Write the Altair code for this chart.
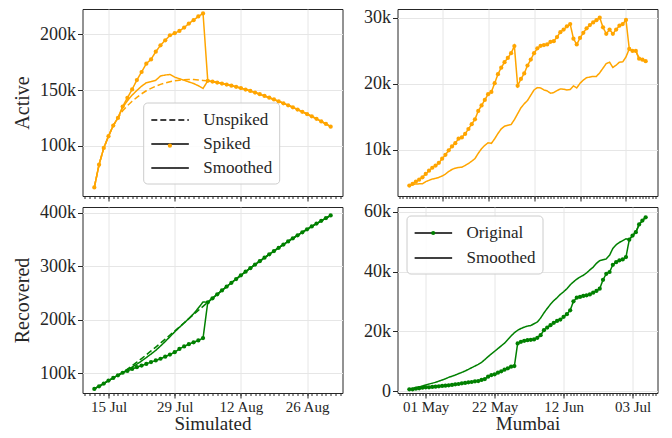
import altair as alt
import pandas as pd

ORANGE = "#ffa500"
GREEN = "#008000"
FONT = "Liberation Serif"
INK = "#262626"

# ---------------- Simulated data (12 Jul - 31 Aug 2020), values in thousands
sim_dates = pd.date_range("2020-07-12", "2020-08-31", freq="D").strftime("%Y-%m-%d").tolist()

sim_active_unspiked = [
    62.9, 83.2, 98.2, 108.7, 118.3, 125.1, 131.5, 136.0, 140.0, 143.5,
    146.7, 149.4, 151.6, 153.5, 155.1, 156.4, 157.5, 158.3, 158.9, 159.3,
    159.5, 159.4, 159.1, 158.7, 158.3, 157.6, 156.8, 155.9, 155.0, 154.0,
    152.9, 151.8, 150.5, 149.2, 147.8, 146.3, 144.8, 143.2, 141.6, 139.9,
    138.2, 136.4, 134.6, 132.6, 130.6, 128.6, 126.5, 124.3, 122.0, 119.7,
    117.3]
sim_active_spiked = [
    62.9, 83.2, 98.2, 108.7, 118.3, 125.1, 135.3, 143.1, 150.6, 159.0,
    166.2, 173.7, 177.5, 184.4, 190.1, 194.6, 199.1, 200.9, 203.0, 206.0,
    209.6, 212.6, 215.9, 218.6, 158.3, 157.6, 156.8, 155.9, 155.0, 154.0,
    152.9, 151.8, 150.5, 149.2, 147.8, 146.3, 144.8, 143.2, 141.6, 139.9,
    138.2, 136.4, 134.6, 132.6, 130.6, 128.6, 126.5, 124.3, 122.0, 119.7,
    117.3]
sim_active_smoothed = [
    62.9, 83.2, 98.2, 108.7, 118.3, 125.1, 134.5, 140.5, 145.5, 149.7,
    153.5, 156.6, 157.6, 158.8, 162.6, 163.5, 164.0, 161.6, 160.2, 158.8,
    157.3, 155.9, 153.9, 151.5, 158.3, 157.6, 156.8, 155.9, 155.0, 154.0,
    152.9, 151.8, 150.5, 149.2, 147.8, 146.3, 144.8, 143.2, 141.6, 139.9,
    138.2, 136.4, 134.6, 132.6, 130.6, 128.6, 126.5, 124.3, 122.0, 119.7,
    117.3]

sim_recovered_unspiked = [
    70.8, 75.7, 80.7, 86.3, 91.3, 96.3, 101.9, 107.9, 114.2, 120.8,
    127.6, 134.6, 141.8, 149.1, 156.5, 164.0, 171.6, 179.2, 186.9, 194.6,
    202.3, 210.0, 217.7, 225.3, 232.9, 240.4, 247.8, 255.1, 262.3, 269.4,
    276.4, 283.3, 290.1, 296.8, 303.4, 309.9, 316.3, 322.6, 328.8, 334.9,
    340.9, 346.8, 352.6, 358.3, 363.9, 369.4, 374.8, 380.1, 385.3, 390.4,
    395.4]
sim_recovered_spiked = [
    70.8, 75.7, 80.7, 86.3, 91.3, 96.3, 101.0, 104.4, 108.2, 111.3,
    114.4, 117.6, 121.0, 124.0, 127.2, 131.0, 135.0, 139.5, 145.5, 150.3,
    154.5, 158.0, 161.5, 165.8, 232.9, 240.4, 247.8, 255.1, 262.3, 269.4,
    276.4, 283.3, 290.1, 296.8, 303.4, 309.9, 316.3, 322.6, 328.8, 334.9,
    340.9, 346.8, 352.6, 358.3, 363.9, 369.4, 374.8, 380.1, 385.3, 390.4,
    395.4]
sim_recovered_smoothed = [
    70.8, 75.7, 80.7, 86.3, 91.3, 96.3, 101.5, 106.5, 111.5, 117.0,
    123.0, 129.5, 136.0, 143.0, 151.0, 159.5, 168.5, 177.5, 186.0, 194.0,
    202.5, 211.5, 222.0, 233.5, 232.9, 240.4, 247.8, 255.1, 262.3, 269.4,
    276.4, 283.3, 290.1, 296.8, 303.4, 309.9, 316.3, 322.6, 328.8, 334.9,
    340.9, 346.8, 352.6, 358.3, 363.9, 369.4, 374.8, 380.1, 385.3, 390.4,
    395.4]

# ---------------- Mumbai data (26 Apr - 07 Jul 2020), values in thousands
mum_dates = pd.date_range("2020-04-26", "2020-07-07", freq="D").strftime("%Y-%m-%d").tolist()

mum_active_original = [
    4.62, 4.87, 5.21, 5.50, 5.86, 6.38, 6.87, 7.31, 7.65, 8.05,
    8.68, 9.27, 9.95, 10.54, 11.03, 11.71, 11.91, 12.44, 13.18, 13.91,
    14.65, 15.92, 16.75, 17.58, 18.46, 18.80, 20.12, 21.49, 22.47, 23.30,
    23.94, 24.67, 25.75, 19.73, 20.76, 21.59, 22.80, 23.70, 24.67, 25.40,
    25.79, 25.89, 25.99, 26.38, 26.48, 27.11, 27.85, 28.24, 28.73, 29.07,
    26.87, 25.99, 26.97, 27.75, 28.44, 28.92, 29.32, 29.66, 30.05, 28.58,
    27.60, 28.24, 27.60, 28.24, 28.83, 29.07, 29.71, 25.31, 25.01, 25.01,
    23.84, 23.69, 23.45]
mum_active_smoothed = [
    4.62, 4.75, 4.85, 4.87, 4.87, 5.20, 5.40, 5.60, 5.70, 5.85,
    6.05, 6.35, 6.75, 7.05, 7.25, 7.35, 7.40, 7.65, 7.95, 8.30,
    8.70, 9.50, 10.20, 10.70, 11.10, 11.00, 11.70, 12.50, 13.20, 13.60,
    13.75, 13.85, 14.60, 15.50, 16.40, 17.00, 17.50, 18.30, 19.10, 19.45,
    19.40, 19.10, 18.95, 18.60, 18.70, 19.00, 19.25, 19.20, 19.10, 19.15,
    19.70, 19.40, 20.10, 20.60, 20.95, 21.05, 21.15, 21.15, 21.70, 22.40,
    23.10, 23.30, 22.50, 22.85, 23.30, 23.35, 24.10, 25.31, 25.01, 25.01,
    23.84, 23.69, 23.45]

mum_recovered_original = [
    0.67, 0.67, 0.89, 1.00, 1.22, 1.33, 1.33, 1.44, 1.56, 1.67,
    1.78, 1.89, 2.00, 2.11, 2.33, 2.44, 2.67, 2.78, 3.00, 3.11,
    3.33, 3.44, 3.78, 4.11, 4.89, 5.44, 5.67, 6.22, 6.67, 7.22,
    7.67, 8.22, 8.44, 16.00, 16.55, 16.90, 17.10, 17.20, 17.33, 17.89,
    18.78, 20.44, 21.33, 22.10, 22.90, 23.55, 24.00, 24.90, 25.80, 27.10,
    30.10, 31.30, 31.55, 31.90, 32.10, 32.40, 33.00, 33.55, 34.30, 37.30,
    39.30, 39.90, 42.30, 43.20, 43.80, 44.10, 44.90, 50.70, 52.10, 53.20,
    55.80, 57.10, 58.20]
mum_recovered_smoothed = [
    0.67, 0.95, 1.22, 1.50, 1.78, 2.10, 2.44, 2.72, 3.00, 3.40,
    3.78, 4.20, 4.67, 5.05, 5.44, 5.90, 6.33, 6.80, 7.33, 7.90,
    8.44, 9.00, 9.67, 10.60, 11.60, 12.50, 13.40, 14.30, 15.20, 16.10,
    17.30, 18.50, 19.60, 20.40, 21.00, 21.45, 21.80, 22.00, 22.60, 23.20,
    24.50, 26.20, 27.70, 29.10, 30.30, 31.30, 32.40, 33.30, 34.30, 35.60,
    36.60, 37.50, 38.20, 38.80, 39.60, 40.60, 41.50, 42.80, 43.70, 44.00,
    44.30, 45.50, 47.80, 49.00, 49.80, 50.40, 51.00, 50.70, 52.10, 53.20,
    55.80, 57.10, 58.20]


def long_df(dates, series):
    rows = []
    for name, vals in series:
        assert len(vals) == len(dates), name
        for d, v in zip(dates, vals):
            rows.append({"date": d, "value": v * 1000.0, "series": name})
    return pd.DataFrame(rows)


def ts(s):
    return int(pd.Timestamp(s, tz="UTC").value // 10**6)


def daily(start, end):
    return [ts(d) for d in pd.date_range(start, end, freq="D")]


LINE_SYMBOL = "M-1,0H3"   # a 2*sqrt(size) long horizontal stroke, starting at the symbol slot


def make_legend(x, y, row_pad):
    return alt.Legend(
        title=None, orient="none", legendX=x, legendY=y,
        symbolType=LINE_SYMBOL, symbolSize=352, symbolStrokeWidth=1.5,
        symbolStrokeColor="black", symbolFillColor="transparent",
        labelFont=FONT, labelFontSize=17, labelColor=INK, labelOffset=32,
        padding=7, rowPadding=row_pad,
        fillColor="rgba(255,255,255,0.85)", strokeColor="#cccccc", cornerRadius=4,
        zindex=1,
    )


def make_dot_legend(x, y):
    return alt.Legend(
        title=None, orient="none", legendX=x, legendY=y,
        symbolType="circle", symbolSize=18, symbolFillColor="black",
        symbolStrokeColor="black", symbolStrokeWidth=0, labelExpr="''",
        labelFontSize=1, labelOffset=0, padding=0, zindex=2,
    )


def ylabel_expr():
    return "datum.value == 0 ? '0' : format(datum.value / 1000, 'd') + 'k'"


def panel(df, color, domain, dashes, dotted, x_dom, major, minor, y_dom, y_ticks,
          y_title, x_title, show_x_labels, legend, dot_legend, width, height):
    xs = alt.Scale(type="utc", domain=x_dom, nice=False)
    ys = alt.Scale(domain=y_dom, nice=False, zero=False)
    x_major = alt.Axis(values=major, labelExpr="utcFormat(datum.value, '%d %b')",
                       labels=show_x_labels, title=x_title, orient="bottom", grid=True,
                       tickSize=5, labelPadding=1, titlePadding=0, labelFontSize=15,
                       titleFontSize=19, labelFlush=False)
    x_minor = alt.Axis(values=minor, labels=False, title=None, orient="bottom",
                       grid=False, tickSize=2.5)
    y_axis = alt.Axis(values=y_ticks, labelExpr=ylabel_expr(), title=y_title, grid=True,
                      tickSize=5, labelPadding=2, titlePadding=7.5, labelFontSize=18,
                      titleFontSize=20)
    lines = alt.Chart(df).mark_line(color=color, strokeWidth=1.5).encode(
        x=alt.X("date:T", scale=xs, axis=x_major),
        y=alt.Y("value:Q", scale=ys, axis=y_axis),
        strokeDash=alt.StrokeDash("series:N", scale=alt.Scale(domain=domain, range=dashes),
                                  legend=legend),
    )
    pts = alt.Chart(df).transform_filter(alt.datum.series == dotted).transform_calculate(
        dot="datum.series").mark_point(filled=True, size=18, opacity=1).encode(
        x=alt.X("date:T", scale=xs, axis=x_minor),
        y=alt.Y("value:Q", scale=ys, axis=y_axis),
        fill=alt.Fill("dot:N", scale=alt.Scale(domain=[dotted], range=[color]), legend=None),
        shape=alt.Shape("dot:N", scale=alt.Scale(domain=[dotted], range=["circle"]),
                        legend=dot_legend),
    )
    return alt.layer(lines, pts).resolve_axis(x="independent").properties(width=width, height=height)


sim_series = ["Unspiked", "Spiked", "Smoothed"]
sim_dash = [[6, 3], [1, 0], [1, 0]]
mum_series = ["Original", "Smoothed"]
mum_dash = [[1, 0], [1, 0]]

df_sim_active = long_df(sim_dates, [("Unspiked", sim_active_unspiked),
                                    ("Spiked", sim_active_spiked),
                                    ("Smoothed", sim_active_smoothed)])
df_sim_rec = long_df(sim_dates, [("Unspiked", sim_recovered_unspiked),
                                 ("Spiked", sim_recovered_spiked),
                                 ("Smoothed", sim_recovered_smoothed)])
df_mum_active = long_df(mum_dates, [("Original", mum_active_original),
                                    ("Smoothed", mum_active_smoothed)])
df_mum_rec = long_df(mum_dates, [("Original", mum_recovered_original),
                                 ("Smoothed", mum_recovered_smoothed)])

sim_x = [ts("2020-07-09 12:00"), ts("2020-09-02 12:00")]
mum_x = [ts("2020-04-22 09:36"), ts("2020-07-10 14:24")]
sim_major = [ts(d) for d in ["2020-07-15", "2020-07-29", "2020-08-12", "2020-08-26"]]
mum_major_top = [ts(d) for d in ["2020-05-06", "2020-05-20", "2020-06-03", "2020-06-17", "2020-07-01"]]
mum_major_bottom = [ts(d) for d in ["2020-05-01", "2020-05-22", "2020-06-12", "2020-07-03"]]
sim_minor = daily("2020-07-10", "2020-09-02")
mum_minor = daily("2020-04-23", "2020-07-10")

tl = panel(df_sim_active, ORANGE, sim_series, sim_dash, "Spiked", sim_x, sim_major, sim_minor,
           [55200, 222600], [100000, 150000, 200000], "Active", None, False,
           make_legend(60.7, 93.5, 5), make_dot_legend(84.9, 134.2), 260, 187)
tr = panel(df_mum_active, ORANGE, mum_series, mum_dash, "Original", mum_x, mum_major_top, mum_minor,
           [3030, 31360], [10000, 20000, 30000], None, None, False,
           None, None, 260, 187)
bl = panel(df_sim_rec, GREEN, sim_series, sim_dash, "Spiked", sim_x, sim_major, sim_minor,
           [63100, 411200], [100000, 200000, 300000, 400000], "Recovered", "Simulated", True,
           None, None, 260, 186)
br = panel(df_mum_rec, GREEN, mum_series, mum_dash, "Original", mum_x, mum_major_bottom, mum_minor,
           [-570, 61640], [0, 20000, 40000, 60000], None, "Mumbai", True,
           make_legend(9, 8.5, 6), make_dot_legend(33.2, 23.5), 260, 186)

chart = alt.concat(tl, tr, bl, br, columns=2, spacing={"row": 0, "column": 19}).resolve_scale(
    strokeDash="independent", shape="independent", fill="independent").resolve_legend(
    strokeDash="independent", shape="independent", fill="independent").properties(
    padding={"left": 3.5, "top": 0, "right": 5, "bottom": 0}
).configure_view(stroke=INK, strokeWidth=1).configure_axis(
    labelFont=FONT, titleFont=FONT, labelColor=INK, titleColor=INK, tickColor=INK,
    gridColor="#e6e6e6", gridWidth=1, domain=False, titleFontWeight="normal",
    tickWidth=1,
)

chart.save("out.html", embed_options={"renderer": "svg", "actions": False})
